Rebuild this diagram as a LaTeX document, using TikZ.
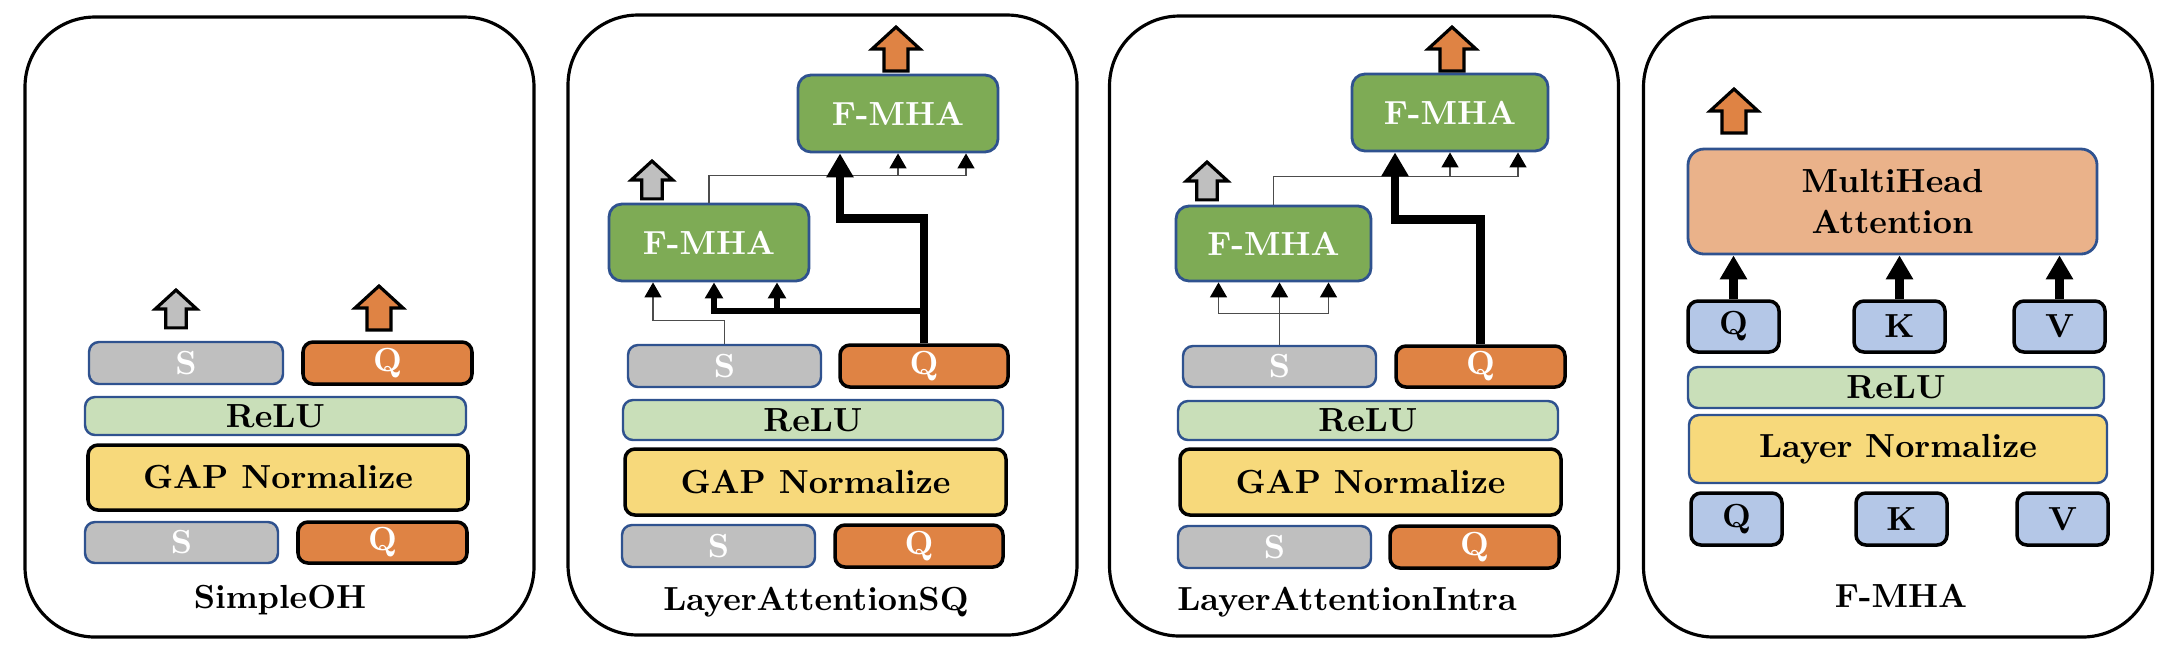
\documentclass[tikz,border=0pt]{standalone}
\usetikzlibrary{arrows.meta}

\definecolor{sgrey}{HTML}{BFBFBF}
\definecolor{qorange}{HTML}{DF8344}
\definecolor{fgreen}{HTML}{7EAB55}
\definecolor{rgreen}{HTML}{C9DFB9}
\definecolor{gyellow}{HTML}{F7D97B}
\definecolor{mhaorange}{HTML}{EAB28A}
\definecolor{kvblue}{HTML}{B4C7E7}
\definecolor{edgeblue}{HTML}{2F528F}

\tikzset{
  every node/.style={font=\fontsize{9.5}{11.5}\selectfont\bfseries},
  panel/.style={draw, line width=0.9pt, rounded corners=7mm, minimum width=50.9mm, minimum height=62mm},
  paneltitle/.style={inner sep=0pt},
  blk/.style={draw, rounded corners=1mm, inner sep=0pt},
  sbox/.style={blk, draw=edgeblue, line width=0.7pt, fill=sgrey, text=white},
  qbox/.style={blk, draw=black, line width=1pt, fill=qorange, text=white},
  relubox/.style={blk, draw=edgeblue, line width=0.7pt, fill=rgreen},
  gapbox/.style={blk, draw=black, line width=1pt, fill=gyellow},
  normbox/.style={blk, draw=edgeblue, line width=0.7pt, fill=gyellow},
  fmhabox/.style={blk, draw=edgeblue, line width=0.8pt, fill=fgreen, text=white, rounded corners=1.3mm},
  mhabox/.style={blk, draw=edgeblue, line width=0.8pt, fill=mhaorange, rounded corners=1.6mm, align=center},
  kvbox/.style={blk, draw=black, line width=1pt, fill=kvblue},
  thinline/.style={draw=black!70, line width=0.4pt, -{Triangle[width=1.7mm, length=1.5mm, black]}},
  thinplain/.style={draw=black!70, line width=0.4pt},
  midline/.style={line width=0.6mm, -{Triangle[width=1.75mm, length=1.6mm]}},
  mainline/.style={line width=0.85mm, -{Triangle[width=2.6mm, length=2.4mm]}},
  pics/outarrow/.style={code={
    \filldraw[fill=#1, line width=0.9pt] (0,0) -- (24,22) -- (12,22) -- (12,44) -- (-12,44) -- (-12,22) -- (-24,22) -- cycle;
  }},
}

\begin{document}
\begin{tikzpicture}[x=0.1mm, y=-0.1mm]
  \useasboundingbox (0,0) rectangle (2168,662);

  % frames
  \node[panel] (frame1) at (279.5,327) {};
  \node[panel] (frame2) at (822.5,325) {};
  \node[panel] (frame3) at (1364,326) {};
  \node[panel] (frame4) at (1898,327) {};

  % SimpleOH
  \node[sbox, minimum width=19.4mm, minimum height=4.2mm] (s1a) at (186,363) {S};
  \node[qbox, minimum width=16.9mm, minimum height=4.2mm] (q1a) at (387.5,363) {Q};
  \node[relubox, minimum width=38.1mm, minimum height=3.8mm] (relu1) at (275.5,416) {ReLU};
  \node[gapbox, minimum width=38mm, minimum height=6.5mm] (gap1) at (278,477.5) {GAP Normalize};
  \node[sbox, minimum width=19.3mm, minimum height=4.1mm] (s1b) at (181.5,542.5) {S};
  \node[qbox, minimum width=16.9mm, minimum height=4.1mm] (q1b) at (382.5,542.5) {Q};
  \node[paneltitle] (title1) at (280,600) {SimpleOH};
  \pic[scale=0.86] at (176,290) {outarrow=sgrey};
  \pic at (379,286) {outarrow=qorange};

  % LayerAttentionSQ
  \node[fmhabox, minimum width=20mm, minimum height=7.7mm] (fmha2b) at (898,113.5) {F-MHA};
  \node[fmhabox, minimum width=20mm, minimum height=7.7mm] (fmha2a) at (709,242.5) {F-MHA};
  \node[sbox, minimum width=19.3mm, minimum height=4.2mm] (s2a) at (724.5,366) {S};
  \node[qbox, minimum width=16.8mm, minimum height=4.2mm] (q2a) at (924,366) {Q};
  \node[relubox, minimum width=38mm, minimum height=4mm] (relu2) at (813,420) {ReLU};
  \node[gapbox, minimum width=38.1mm, minimum height=6.6mm] (gap2) at (815.5,482) {GAP Normalize};
  \node[sbox, minimum width=19.3mm, minimum height=4.2mm] (s2b) at (718.5,546) {S};
  \node[qbox, minimum width=16.8mm, minimum height=4.2mm] (q2b) at (919,546) {Q};
  \node[paneltitle] (title2) at (816,602) {LayerAttentionSQ};
  \pic[scale=0.86] at (652,161) {outarrow=sgrey};
  \pic at (896,27) {outarrow=qorange};

  \coordinate (t2) at ([yshift=2.7mm]fmha2a.north);
  \coordinate (f2r) at ([xshift=6.8mm]fmha2b.south);
  \draw[thinplain] (fmha2a.north) -- (t2) -- (t2 -| f2r);
  \draw[thinline] (t2 -| fmha2b.south) -- (fmha2b.south);
  \draw[thinline] (t2 -| f2r) -- (f2r);
  \draw[thinline] (s2a.north) -- ++(0,-23) -| ([xshift=-5.6mm]fmha2a.south);
  \coordinate (j2) at ([yshift=3.2mm]q2a.north);
  \coordinate (f2m) at ([xshift=6.8mm]fmha2a.south);
  \draw[midline] (j2) -| ([xshift=0.5mm]fmha2a.south);
  \draw[midline] (f2m |- j2) -- (f2m);
  \draw[mainline] (q2a.north) -- ++(0,-125) -| ([xshift=-5.8mm]fmha2b.south);

  % LayerAttentionIntra
  \node[fmhabox, minimum width=19.6mm, minimum height=7.7mm] (fmha3b) at (1450,112.5) {F-MHA};
  \node[fmhabox, minimum width=19.5mm, minimum height=7.5mm] (fmha3a) at (1273.5,243.5) {F-MHA};
  \node[sbox, minimum width=19.3mm, minimum height=4.1mm] (s3a) at (1279.5,366.5) {S};
  \node[qbox, minimum width=16.9mm, minimum height=4.1mm] (q3a) at (1480.5,366.5) {Q};
  \node[relubox, minimum width=38mm, minimum height=3.9mm] (relu3) at (1368,420.5) {ReLU};
  \node[gapbox, minimum width=38.1mm, minimum height=6.6mm] (gap3) at (1370.5,482) {GAP Normalize};
  \node[sbox, minimum width=19.3mm, minimum height=4.2mm] (s3b) at (1274.5,547) {S};
  \node[qbox, minimum width=16.9mm, minimum height=4.2mm] (q3b) at (1474.5,547) {Q};
  \node[paneltitle] (title3) at (1347,602) {LayerAttentionIntra};
  \pic[scale=0.86] at (1207,162) {outarrow=sgrey};
  \pic at (1452,27) {outarrow=qorange};

  \coordinate (t3) at ([yshift=2.8mm]fmha3a.north);
  \coordinate (f3r) at ([xshift=6.8mm]fmha3b.south);
  \draw[thinplain] (fmha3a.north) -- (t3) -- (t3 -| f3r);
  \draw[thinline] (t3 -| fmha3b.south) -- (fmha3b.south);
  \draw[thinline] (t3 -| f3r) -- (f3r);
  \coordinate (j3) at ([yshift=3.1mm]s3a.north);
  \coordinate (f3a) at ([xshift=-5.5mm]fmha3a.south);
  \coordinate (f3c) at ([xshift=5.5mm]fmha3a.south);
  \draw[thinplain] (j3 -| f3a) -- (j3 -| f3c);
  \draw[thinline] (j3 -| f3a) -- (f3a);
  \draw[thinline] (j3 -| f3c) -- (f3c);
  \draw[thinline] (s3a.north) -- (s3a.north |- fmha3a.south);
  \draw[mainline] (q3a.north) -- ++(0,-125) -| ([xshift=-5.5mm]fmha3b.south);

  % F-MHA
  \node[mhabox, minimum width=40.9mm, minimum height=10.5mm] (mha) at (1892.5,201.5) {MultiHead\\Attention};
  \node[kvbox, minimum width=9.1mm, minimum height=5.1mm] (q4a) at (1733.5,326.5) {Q};
  \node[kvbox, minimum width=9.1mm, minimum height=5.1mm] (k4a) at (1899.5,326.5) {K};
  \node[kvbox, minimum width=9.1mm, minimum height=5.1mm] (v4a) at (2059.5,326.5) {V};
  \node[relubox, minimum width=41.6mm, minimum height=4.1mm] (relu4) at (1896,387.5) {ReLU};
  \node[normbox, minimum width=41.8mm, minimum height=6.8mm] (norm4) at (1898,449) {Layer Normalize};
  \node[kvbox, minimum width=9.1mm, minimum height=5.2mm] (q4b) at (1736.5,519) {Q};
  \node[kvbox, minimum width=9.1mm, minimum height=5.2mm] (k4b) at (1901.5,519) {K};
  \node[kvbox, minimum width=9.1mm, minimum height=5.2mm] (v4b) at (2062.5,519) {V};
  \node[paneltitle] (title4) at (1901,596) {F-MHA};
  \pic at (1734,89) {outarrow=qorange};

  \draw[mainline] (q4a.north) -- (q4a.north |- mha.south);
  \draw[mainline] (k4a.north) -- (k4a.north |- mha.south);
  \draw[mainline] (v4a.north) -- (v4a.north |- mha.south);
\end{tikzpicture}
\end{document}
